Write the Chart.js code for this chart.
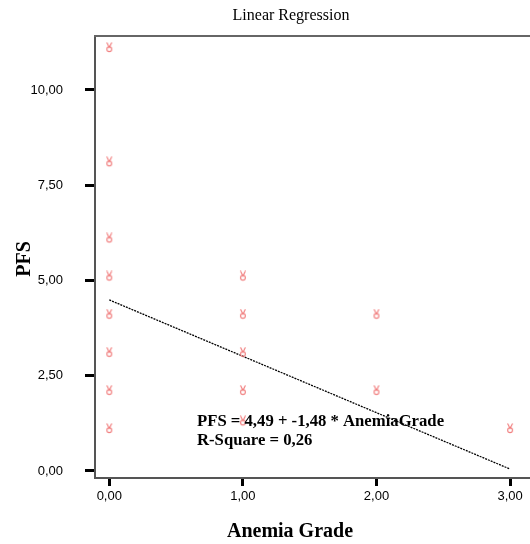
<!DOCTYPE html>
<html lang="en">
<head>
    <meta charset="UTF-8">
    <title>Linear Regression</title>
    <script src="https://cdn.jsdelivr.net/npm/chart.js"></script>
    <style>
        body {
            margin: 0;
            background: #fff;
        }
        #regChart {
            width: 530px;
            height: 544px;
        }
    </style>
</head>
<body>
    <canvas id="regChart" width="530" height="544"></canvas>

    <script>
        // observed cases (Anemia Grade vs PFS)
        const anemiaGrade = [0, 0, 0, 0, 0, 0, 0, 0, 1, 1, 1, 1, 1, 2, 2, 3];
        const pfs = [11, 8, 6, 5, 4, 3, 2, 1, 5, 4, 3, 2, 1.2, 4, 2, 1];

        // fitted line PFS = 4,49 + -1,48 * AnemiaGrade
        const fitX = [0, 3];
        const fitY = [4.49, 0.05];

        const yTicks = [0, 2.5, 5, 7.5, 10];
        const xTicks = [0, 1, 2, 3];

        const fmt = v => v.toFixed(2).replace('.', ',');

        // SPSS-like marker, glyph sits above the data point
        function makeMarker() {
            const c = document.createElement('canvas');
            c.width = 8;
            c.height = 20;
            const g = c.getContext('2d');
            g.strokeStyle = '#f07a7a';
            g.lineWidth = 1.1;
            g.beginPath();
            g.moveTo(1.5, 0.5);
            g.lineTo(4, 5.5);
            g.lineTo(6.5, 0.5);
            g.stroke();
            g.beginPath();
            g.arc(4, 7.2, 2.4, 0, Math.PI * 2);
            g.stroke();
            return c;
        }
        const marker = makeMarker();

        const textPlugin = {
            id: 'texts',
            afterDraw(chart) {
                const c = chart.ctx;
                const a = chart.chartArea;
                c.save();
                // top frame line
                c.strokeStyle = '#666';
                c.lineWidth = 2;
                c.beginPath();
                c.moveTo(a.left - 1, a.top);
                c.lineTo(a.right, a.top);
                c.stroke();

                c.fillStyle = '#000';
                c.textAlign = 'center';
                c.textBaseline = 'middle';
                c.font = '16px "Liberation Serif"';
                c.fillText('Linear Regression', 291, 16);

                c.font = 'bold 20px "Liberation Serif"';
                c.fillText('Anemia Grade', 290, 532);

                c.save();
                c.translate(25, 259);
                c.rotate(-Math.PI / 2);
                c.fillText('PFS', 0, 0);
                c.restore();

                c.textAlign = 'left';
                c.textBaseline = 'alphabetic';
                c.font = 'bold 16.7px "Liberation Serif"';
                c.fillText('PFS = 4,49 + -1,48 * AnemiaGrade', 197, 426);
                c.fillText('R-Square = 0,26', 197, 445);
                c.restore();
            }
        };

        const ctx = document.getElementById('regChart').getContext('2d');
        const regChart = new Chart(ctx, {
            type: 'scatter',
            data: {
                datasets: [
                    {
                        label: 'Observed',
                        data: anemiaGrade.map((x, i) => ({ x: x, y: pfs[i] })),
                        pointStyle: marker,
                        pointRadius: 5,
                    },
                    {
                        type: 'line',
                        label: 'Linear',
                        data: fitX.map((x, i) => ({ x: x, y: fitY[i] })),
                        borderColor: '#000',
                        borderWidth: 1.3,
                        borderDash: [2, 1],
                        pointRadius: 0,
                        fill: false,
                    }
                ]
            },
            options: {
                responsive: false,
                animation: false,
                layout: {
                    autoPadding: false,
                    padding: { top: 36, right: 0, left: 0, bottom: 0 }
                },
                plugins: {
                    legend: { display: false },
                    tooltip: { enabled: false },
                },
                scales: {
                    x: {
                        type: 'linear',
                        min: -0.107,
                        max: 3.149,
                        afterFit: s => {
                            s.height = 66;
                            s.paddingLeft = 0;
                            s.paddingRight = 0;
                        },
                        afterBuildTicks: s => { s.ticks = xTicks.map(v => ({ value: v })); },
                        border: { display: true, color: '#555', width: 2 },
                        grid: {
                            drawOnChartArea: false,
                            tickLength: 8,
                            tickWidth: 3,
                            tickColor: '#000',
                        },
                        ticks: {
                            color: '#000',
                            padding: 3,
                            maxRotation: 0,
                            font: { family: 'Liberation Sans', size: 13 },
                            callback: v => fmt(v),
                        }
                    },
                    y: {
                        min: -0.184,
                        max: 11.417,
                        afterFit: s => {
                            s.width = 95;
                            s.paddingTop = 0;
                            s.paddingBottom = 0;
                        },
                        afterBuildTicks: s => { s.ticks = yTicks.map(v => ({ value: v })); },
                        border: { display: true, color: '#555', width: 2 },
                        grid: {
                            drawOnChartArea: false,
                            tickLength: 10,
                            tickWidth: 3,
                            tickColor: '#000',
                        },
                        ticks: {
                            color: '#000',
                            padding: 22,
                            font: { family: 'Liberation Sans', size: 13 },
                            callback: v => fmt(v),
                        }
                    }
                }
            },
            plugins: [textPlugin]
        });
    </script>
</body>
</html>
